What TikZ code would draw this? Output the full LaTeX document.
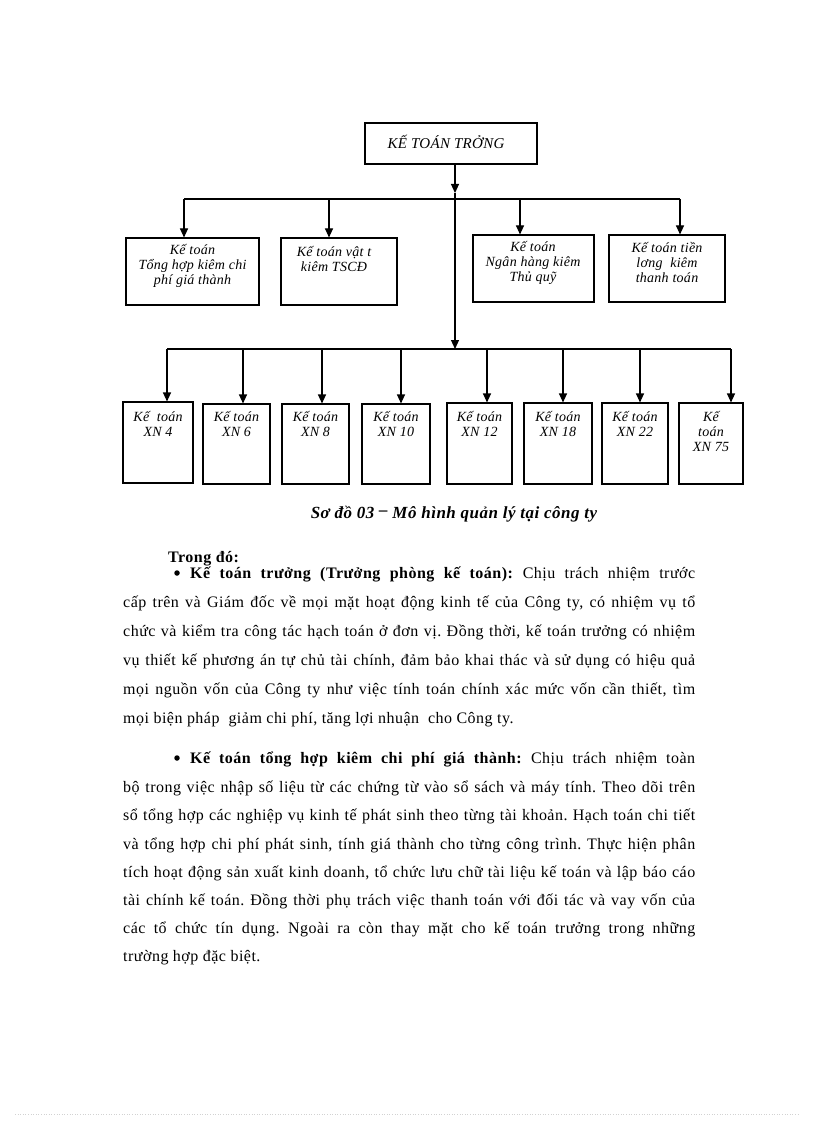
\documentclass[tikz,border=0pt]{standalone}
\usepackage{fontspec}
\setmainfont{Liberation Serif}
\newfontfamily\boxfont[LetterSpace=2]{Liberation Serif}
\newfontfamily\capfont[LetterSpace=3]{Liberation Serif}
\newfontfamily\bodyfont[LetterSpace=3]{Liberation Serif}
\usetikzlibrary{arrows.meta}
\frenchspacing
\tikzset{
  box/.style={draw, line width=1.1pt, inner sep=0pt},
  btxt/.style={font=\boxfont\itshape\fontsize{14}{15}\selectfont, align=center, inner sep=0pt},
  arr/.style={line width=1.1pt, -{Triangle[width=8pt,length=9pt]}},
  ln/.style={line width=1.1pt},
  body/.style={font=\bodyfont\fontsize{16}{19}\selectfont, anchor=base west, inner sep=0pt},
  bulletdot/.style={circle, fill=black, inner sep=0pt, minimum size=5.5pt},
}
\begin{document}
\begin{tikzpicture}[x=1pt,y=-1pt]
\fill[white] (0,0) rectangle (816,1123);
\useasboundingbox (0,0) rectangle (816,1123);

% top box
\node[box, minimum width=172, minimum height=41] (top) at (451,143.5) {};
\node[btxt, font=\boxfont\itshape\fontsize{15}{16}\selectfont] (toptxt) at (446,142) {KẾ TOÁN TRỞNG};

% level 2 boxes
\node[box, minimum width=133, minimum height=67] (A) at (192.5,271.5) {};
\node[btxt] (Atxt) at (192.5,266) {Kế toán\\Tổng hợp kiêm chi\\phí giá thành};
\node[box, minimum width=116, minimum height=67] (B) at (339,271.5) {};
\node[btxt] (Btxt) at (334,258.5) {Kế toán vật t\\kiêm TSCĐ};
\node[box, minimum width=121, minimum height=67] (C) at (533.5,268.5) {};
\node[btxt] (Ctxt) at (533,263) {Kế toán\\Ngân hàng kiêm\\Thủ quỹ};
\node[box, minimum width=116, minimum height=67] (D) at (667,268.5) {};
\node[btxt] (Dtxt) at (667,263) {Kế toán tiền\\lơng \ kiêm\\thanh toán};

% level 3 boxes
\node[box, minimum width=70, minimum height=81] (X4) at (158,442.5) {};
\node[btxt] (X4t) at (158,424) {Kế \ toán\\XN 4};
\node[box, minimum width=67, minimum height=80] (X6) at (236.5,444) {};
\node[btxt] (X6t) at (236.5,424) {Kế toán\\XN 6};
\node[box, minimum width=67, minimum height=80] (X8) at (315.5,444) {};
\node[btxt] (X8t) at (315.5,424) {Kế toán\\XN 8};
\node[box, minimum width=68, minimum height=80] (X10) at (396,444) {};
\node[btxt] (X10t) at (396,424) {Kế toán\\XN 10};
\node[box, minimum width=65, minimum height=81] (X12) at (479.5,443.5) {};
\node[btxt] (X12t) at (479.5,424) {Kế toán\\XN 12};
\node[box, minimum width=68, minimum height=81] (X18) at (558,443.5) {};
\node[btxt] (X18t) at (558,424) {Kế toán\\XN 18};
\node[box, minimum width=66, minimum height=81] (X22) at (635,443.5) {};
\node[btxt] (X22t) at (635,424) {Kế toán\\XN 22};
\node[box, minimum width=64, minimum height=81] (X75) at (711,443.5) {};
\node[btxt] (X75t) at (711,431) {Kế\\toán\\XN 75};

% main vertical line
\coordinate (m0) at ([xshift=4]top.south);
\coordinate (m1) at (455,193);
\coordinate (b2M) at (455,349);
\draw[arr] (m0) -- (m1);
\draw[arr] (m1) -- (b2M);

% bus 1
\coordinate (b1A) at (184,199);
\coordinate (b1B) at (329,199);
\coordinate (b1C) at (520,199);
\coordinate (b1D) at (680,199);
\draw[ln] (b1A) -- (b1D);
\draw[arr] (b1A) -- (b1A |- A.north);
\draw[arr] (b1B) -- (b1B |- B.north);
\draw[arr] (b1C) -- (b1C |- C.north);
\draw[arr] (b1D) -- (b1D |- D.north);

% bus 2
\coordinate (b2a) at (167,349);
\coordinate (b2b) at (243,349);
\coordinate (b2c) at (322,349);
\coordinate (b2d) at (401,349);
\coordinate (b2e) at (487,349);
\coordinate (b2f) at (563,349);
\coordinate (b2g) at (640,349);
\coordinate (b2h) at (731,349);
\draw[ln] (b2a) -- (b2h);
\draw[arr] (b2a) -- (b2a |- X4.north);
\draw[arr] (b2b) -- (b2b |- X6.north);
\draw[arr] (b2c) -- (b2c |- X8.north);
\draw[arr] (b2d) -- (b2d |- X10.north);
\draw[arr] (b2e) -- (b2e |- X12.north);
\draw[arr] (b2f) -- (b2f |- X18.north);
\draw[arr] (b2g) -- (b2g |- X22.north);
\draw[arr] (b2h) -- (b2h |- X75.north);

% caption
\node[inner sep=0pt, font=\capfont\bfseries\itshape\fontsize{17}{19}\selectfont] (cap) at (454,514) {Sơ đồ 03 \raisebox{.35ex}{–} Mô hình quản lý tại công ty};

% body text
\node[body, font=\bodyfont\bfseries\fontsize{16}{19}\selectfont] (trong) at (168,562) {Trong đó:};

\node[bulletdot] (bul1) at (177,573) {};
\node[body] (p1a) at (190,578) {\makebox[505pt][s]{\textbf{Kế toán trưởng (Trưởng phòng kế toán):} Chịu trách nhiệm trước}};
\node[body] (p1b) at (123,607) {\makebox[572pt][s]{cấp trên và Giám đốc về mọi mặt hoạt động kinh tế của Công ty, có nhiệm vụ tổ}};
\node[body] (p1c) at (123,636) {\makebox[572pt][s]{chức và kiểm tra công tác hạch toán ở đơn vị. Đồng thời, kế toán trưởng có nhiệm}};
\node[body] (p1d) at (123,665) {\makebox[572pt][s]{vụ thiết kế phương án tự chủ tài chính, đảm bảo khai thác và sử dụng có hiệu quả}};
\node[body] (p1e) at (123,694) {\makebox[572pt][s]{mọi nguồn vốn của Công ty như việc tính toán chính xác mức vốn cần thiết, tìm}};
\node[body] (p1f) at (123,723) {mọi biện pháp \ giảm chi phí, tăng lợi nhuận \ cho Công ty.};

\node[bulletdot] (bul2) at (177,758) {};
\node[body] (p2a) at (190,763) {\makebox[505pt][s]{\textbf{Kế toán tổng hợp kiêm chi phí giá thành:} Chịu trách nhiệm toàn}};
\node[body] (p2b) at (123,792) {\makebox[572pt][s]{bộ trong việc nhập số liệu từ các chứng từ vào sổ sách và máy tính. Theo dõi trên}};
\node[body] (p2c) at (123,820) {\makebox[572pt][s]{sổ tổng hợp các nghiệp vụ kinh tế phát sinh theo từng tài khoản. Hạch toán chi tiết}};
\node[body] (p2d) at (123,849) {\makebox[572pt][s]{và tổng hợp chi phí phát sinh, tính giá thành cho từng công trình. Thực hiện phân}};
\node[body] (p2e) at (123,877) {\makebox[572pt][s]{tích hoạt động sản xuất kinh doanh, tổ chức lưu chữ tài liệu kế toán và lập báo cáo}};
\node[body] (p2f) at (123,905) {\makebox[572pt][s]{tài chính kế toán. Đồng thời phụ trách việc thanh toán với đối tác và vay vốn của}};
\node[body] (p2g) at (123,933) {\makebox[572pt][s]{các tổ chức tín dụng. Ngoài ra còn thay mặt cho kế toán trưởng trong những}};
\node[body] (p2h) at (123,961) {trường hợp đặc biệt.};

% faint page edge
\draw[gray!35, dotted, line width=0.6pt] (15,1114) -- (800,1114);
\end{tikzpicture}
\end{document}
